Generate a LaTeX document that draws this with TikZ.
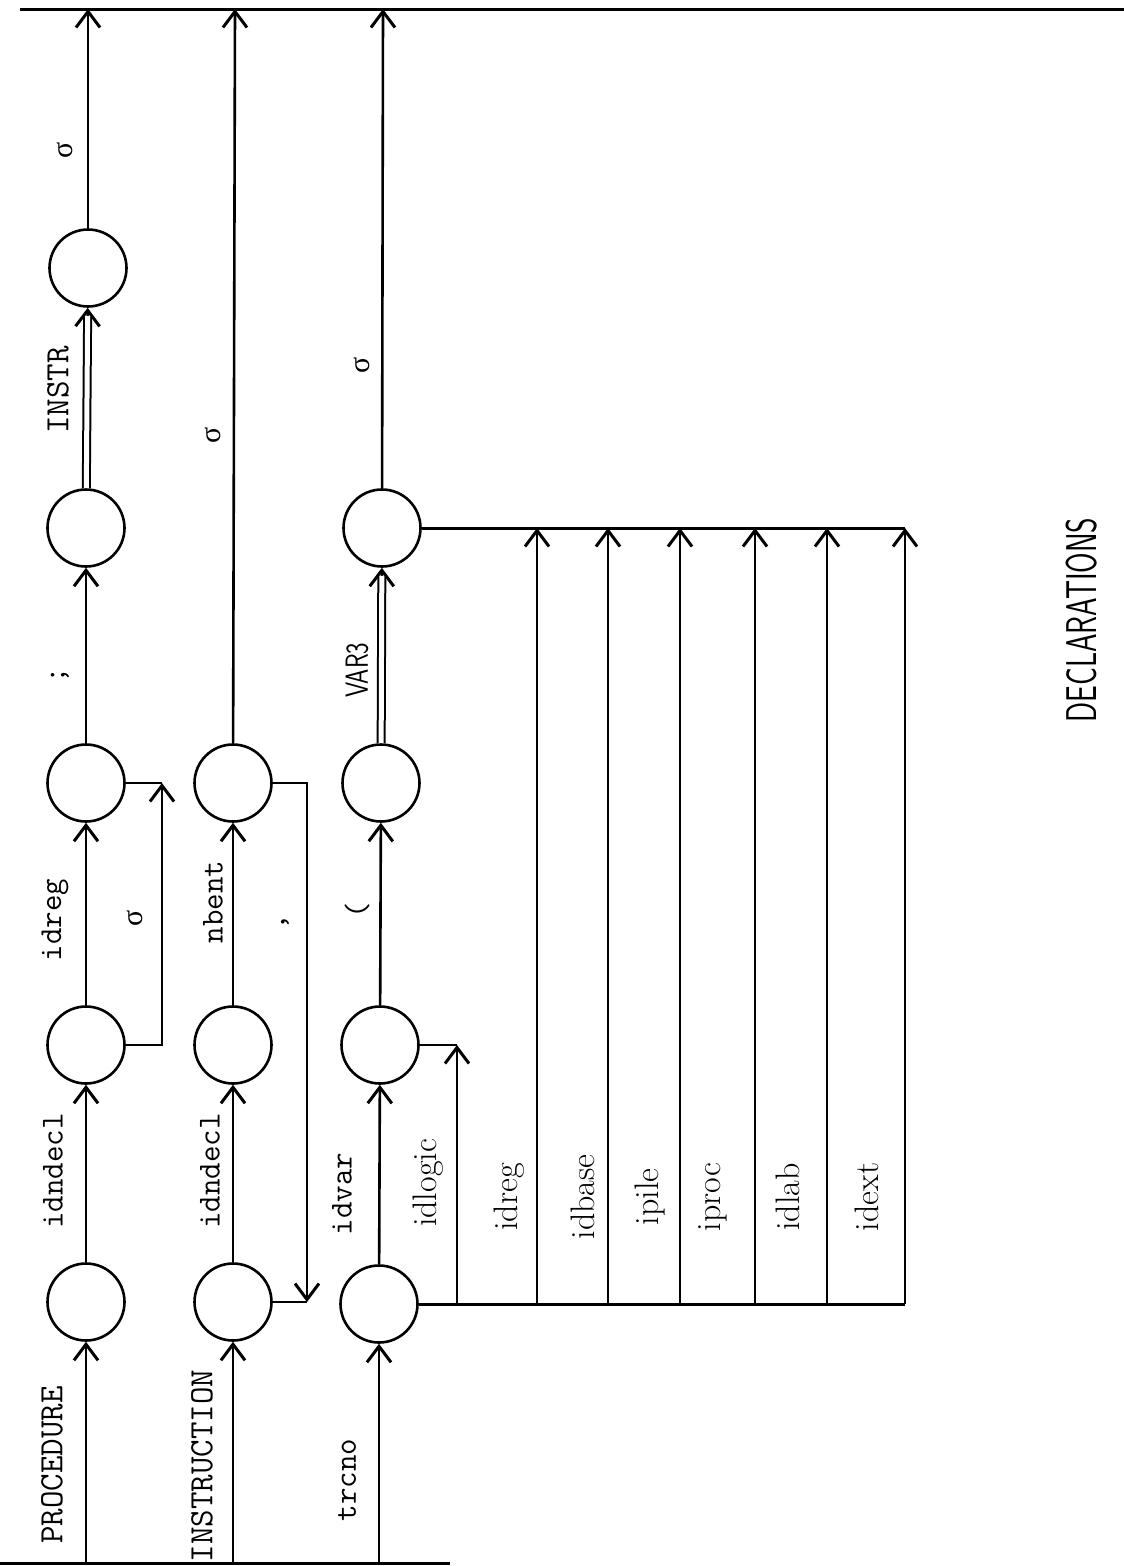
\documentclass[tikz,border=0pt]{standalone}
\usepackage{fontspec}
\usepackage{graphicx}
\newfontfamily\greekfont{Liberation Serif}
\usetikzlibrary{arrows.meta}

\begin{document}
\begin{tikzpicture}[x=1pt, y=-1pt, line width=2.6pt,
  state/.style={circle, draw, minimum size=77pt, inner sep=0pt},
  flow/.style={-{Straight Barb[length=16pt, width=24pt, line width=3pt]}},
  twin/.style={double, double distance=5pt, line width=2pt},
  caps/.style={rotate=90, font=\fontsize{34}{34}\selectfont\ttfamily},
  lab/.style={rotate=90, font=\fontsize{32}{32}\selectfont\ttfamily},
  decl/.style={rotate=90, font=\fontsize{34}{34}\selectfont\rmfamily},
  sig/.style={rotate=90, font=\greekfont\fontsize{30}{30}\selectfont},
  cond/.style={rotate=90, font=\fontsize{#1}{#1}\selectfont\sffamily}]
\useasboundingbox (0,0) rectangle (1124,1566);

% rails
\coordinate (top w) at (20,9);
\coordinate (top e) at (1124,9);
\coordinate (bot w) at (0,1563);
\coordinate (bot e) at (450,1563);
\draw[line width=3pt] (top w) -- (top e);
\draw[line width=3pt] (bot w) -- (bot e);

% PROCEDURE
\node[state] (p1) at (86,1302) {};
\node[state] (p2) at (86,1045) {};
\node[state] (p3) at (86,783) {};
\node[state] (p4) at (86,528) {};
\node[state] (p5) at (88,268) {};
\coordinate (p in) at (86,1563);
\coordinate (p out) at (88,9);
\coordinate (p loop) at (162,783);

\draw[flow] (p in) -- (p1);
\draw[flow] (p1) -- (p2);
\draw[flow] (p2) -- (p3);
\draw[flow] (p2.east) -| (p loop);
\draw (p3.east) -- (p loop);
\draw[flow] (p3) -- (p4);
\draw[flow] (p4) -- (p5);
\draw[twin, shorten >=8pt] (p4) -- (p5);
\draw[flow] (p5) -- (p out);

\node[caps] at (52,1465) {PROCEDURE};
\node[lab] at (53,1171) {idndecl};
\node[lab] at (55,920) {idreg};
\node[sig] at (135,918) {σ};
\node[lab] at (60,675) {;};
\node[caps] at (58,390) {INSTR};
\node[sig] at (65,150) {σ};

% INSTRUCTION
\node[state] (i1) at (233,1302) {};
\node[state] (i2) at (233,1045) {};
\node[state] (i3) at (233,783) {};
\coordinate (i in) at (233,1563);
\coordinate (i out) at (235,9);
\coordinate (i loop) at (307,1302);

\draw[flow] (i in) -- (i1);
\draw[flow] (i1) -- (i2);
\draw[flow] (i2) -- (i3);
\draw[flow] (i3) -- (i out);
\draw[flow] (i3.east) -| (i loop);
\draw (i1.east) -- (i loop);

\node[caps] at (202,1466) {INSTRUCTION};
\node[lab] at (210,1171) {idndecl};
\node[lab] at (213,902) {nbent};
\node[lab] at (285,922) {,};
\node[sig] at (213,435) {σ};

% trcno
\node[state] (t1) at (379,1304) {};
\node[state] (t2) at (380,1045) {};
\node[state] (t3) at (381,783) {};
\node[state] (t4) at (382,528) {};
\coordinate (t in) at (379,1563);
\coordinate (t out) at (383,9);

\draw[flow] (t in) -- (t1);
\draw[flow] (t1) -- (t2);
\draw[flow] (t2) -- (t3);
\draw[flow] (t3) -- (t4);
\draw[twin, shorten >=8pt] (t3) -- (t4);
\draw[flow] (t4) -- (t out);

\node[lab] at (347,1480) {trcno};
\node[lab] at (342,1194) {idvar};
\node[lab] at (357,910) {(};
\node[cond=32] at (357,670) {\scalebox{0.76}[1]{VAR3}};
\node[sig] at (362,365) {σ};

% declaration bus
\coordinate (bus s) at (905,1304);
\coordinate (bus n) at (905,528);
\draw[line width=3pt] (t1.east) -- (bus s);
\draw[line width=3pt] (t4.east) -- (bus n);

\coordinate (idlogic s) at (457,1304);
\coordinate (idlogic n) at (457,1045);
\draw[flow] (idlogic s) -- (idlogic n);
\draw (t2.east) -- (idlogic n);
\node[decl] at (428,1183) {idlogic};

\foreach \x/\lx/\nm in {537/509/idreg, 608/583/idbase, 680/650/ipile,
                        755/713/iproc, 827/788/idlab, 905/867/idext} {
  \coordinate (\nm s) at (\x,1304);
  \coordinate (\nm n) at (\x,528);
  \draw[flow] (\nm s) -- (\nm n);
  \node[decl] at (\lx,1197) {\nm};
}

\node[cond=43] at (1082,620) {\scalebox{0.69}[1]{DECLARATIONS}};
\end{tikzpicture}
\end{document}
